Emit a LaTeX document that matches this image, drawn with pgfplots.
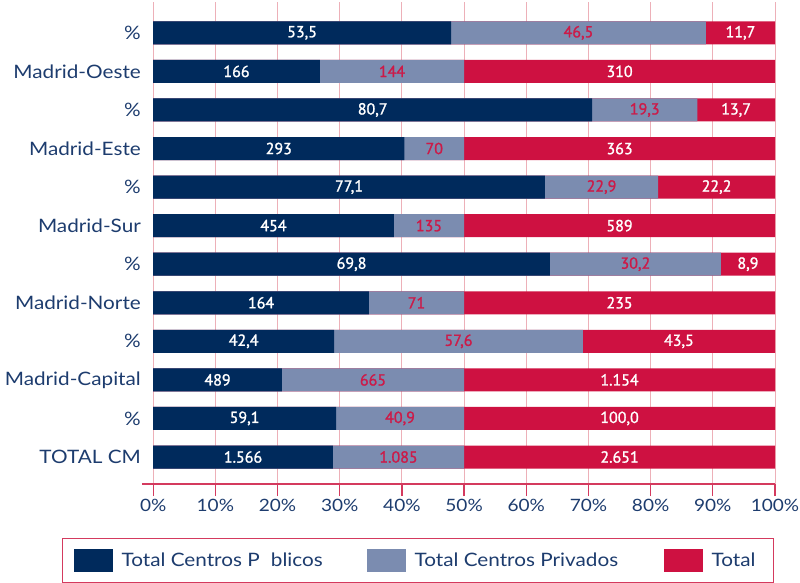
\documentclass[border=0pt]{standalone}
\usepackage{fontspec}
\usepackage{pgfplots}
\pgfplotsset{compat=1.18}
\usepackage{pgfplotstable}
\setmainfont{Lato}[FakeStretch=1.12]
\newfontfamily\valfont{PT Sans}[FakeBold=1.4]
\definecolor{navybar}{HTML}{002A5C}
\definecolor{graybar}{HTML}{7B8CB0}
\definecolor{redbar}{HTML}{CE1141}
\definecolor{gridpink}{HTML}{EDB0B8}
\definecolor{axisred}{HTML}{D43A5E}
\definecolor{textnavy}{HTML}{1D3C6E}
\definecolor{labred}{HTML}{CC1A48}

\pgfplotstableread{
y d g t dl gl rl
11 47.9 88.9 100 53,5 46,5 11,7
10 26.8 50 100 166 144 310
9 70.6 87.5 100 80,7 19,3 13,7
8 40.4 50 100 293 70 363
7 63.0 81.2 100 77,1 22,9 22,2
6 38.7 50 100 454 135 589
5 63.8 91.3 100 69,8 30,2 8,9
4 34.7 50 100 164 71 235
3 29.1 69.1 100 42,4 57,6 43,5
2 20.7 50 100 489 665 1.154
1 29.4 50 100 59,1 40,9 100,0
0 28.9 50 100 1.566 1.085 2.651
}\data

\begin{document}
\begin{tikzpicture}
\begin{axis}[
  at={(0,0)}, anchor=south west,
  scale only axis, width=633pt, height=482pt,
  xmin=-1.8, xmax=100, ymin=-0.7, ymax=11.8,
  axis x line*=bottom, axis y line*=left,
  y axis line style={draw=none},
  x axis line style={draw=axisred, line width=2pt},
  xtick={0,10,...,100},
  xticklabels={0\%,10\%,20\%,30\%,40\%,50\%,60\%,70\%,80\%,90\%,100\%},
  ytick={0,...,11},
  yticklabels={TOTAL CM,\%,Madrid-Capital,\%,Madrid-Norte,\%,Madrid-Sur,\%,Madrid-Este,\%,Madrid-Oeste,\%},
  tick align=outside, major tick length=12pt,
  xtick style={draw=axisred, line width=1.2pt},
  ytick style={draw=none},
  xmajorgrids, grid style={draw=gridpink, line width=1pt},
  xticklabel style={font=\fontsize{17}{20}\selectfont, text=textnavy},
  yticklabel style={font=\fontsize{18.5}{22}\selectfont, text=textnavy, inner sep=0pt, xshift=11pt},
  legend image code/.code={\fill[#1] (0pt,-11.5pt) rectangle (39pt,11.5pt);},
  legend style={
    at={(-0.1264,-0.112)}, anchor=north west,
    draw=axisred, line width=1.2pt,
    legend columns=3,
    inner xsep=11pt, inner ysep=10.5pt,
    nodes={inner sep=0pt},
    column sep=0pt,
    /tikz/every odd column/.append style={column sep=9pt},
    /tikz/every even column/.append style={column sep=42pt},
    font=\fontsize{18.5}{22}\selectfont, text=textnavy,
  },
  legend cell align=left,
]
\addplot[xbar, bar width=23pt, bar shift=0pt, fill=redbar, draw=none, forget plot] table[x=t, y=y] {\data};
\addplot[xbar, bar width=23pt, bar shift=0pt, fill=graybar, draw=none, forget plot] table[x=g, y=y] {\data};
\addplot[xbar, bar width=23pt, bar shift=0pt, fill=navybar, draw=none, forget plot] table[x=d, y=y] {\data};

\addplot[only marks, mark=none, forget plot, point meta=explicit symbolic, nodes near coords,
  every node near coord/.append style={anchor=center, font=\valfont\fontsize{16}{18}\selectfont, text=white}]
  table[x expr=\thisrow{d}/2, y=y, meta=dl] {\data};
\addplot[only marks, mark=none, forget plot, point meta=explicit symbolic, nodes near coords,
  every node near coord/.append style={anchor=center, font=\valfont\fontsize{16}{18}\selectfont, text=labred}]
  table[x expr=(\thisrow{d}+\thisrow{g})/2, y=y, meta=gl] {\data};
\addplot[only marks, mark=none, forget plot, point meta=explicit symbolic, nodes near coords,
  every node near coord/.append style={anchor=center, font=\valfont\fontsize{16}{18}\selectfont, text=white}]
  table[x expr=(\thisrow{g}+\thisrow{t})/2, y=y, meta=rl] {\data};

\addlegendimage{fill=navybar, draw=none}
\addlegendimage{fill=graybar, draw=none}
\addlegendimage{fill=redbar, draw=none}
\legend{\makebox[203pt][l]{Total Centros P\hspace{0.6em}blicos},\makebox[207pt][l]{Total Centros Privados},\makebox[51pt][l]{Total}}
\end{axis}
\pgfresetboundingbox
\path[use as bounding box] (-142pt,-99pt) rectangle (658pt,484pt);
\end{tikzpicture}
\end{document}
